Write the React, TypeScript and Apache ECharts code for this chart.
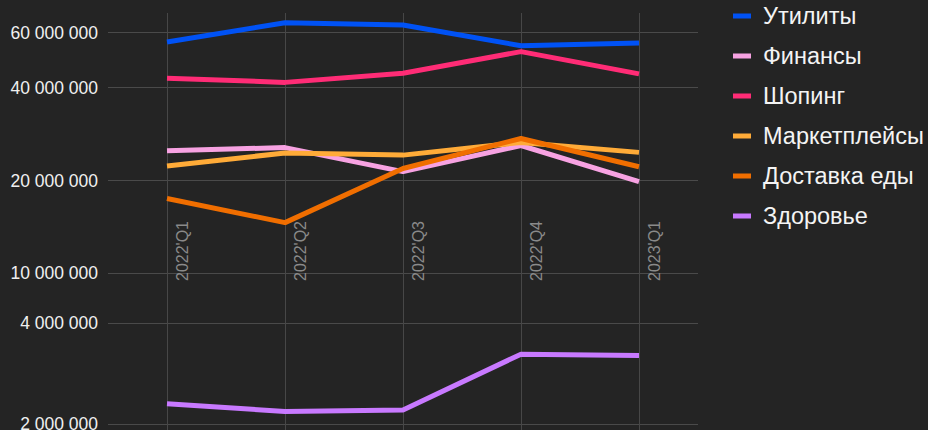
import React, { useEffect, useRef } from "react";
import * as echarts from "echarts";

const categories = ["2022'Q1", "2022'Q2", "2022'Q3", "2022'Q4", "2023'Q1"];

const utilities = [56.0e6, 64.6e6, 63.5e6, 54.5e6, 55.6e6];
const finance = [25.0e6, 25.6e6, 21.4e6, 26.0e6, 19.85e6];
const shopping = [42.9e6, 41.6e6, 44.5e6, 52.2e6, 44.3e6];
const marketplaces = [22.3e6, 24.6e6, 24.2e6, 26.6e6, 24.7e6];
const foodDelivery = [17.5e6, 14.6e6, 21.9e6, 27.4e6, 22.2e6];
const health = [2.3e6, 2.18e6, 2.2e6, 3.23e6, 3.2e6];

const seriesNames = ["Утилиты", "Финансы", "Шопинг", "Маркетплейсы", "Доставка еды", "Здоровье"];
const seriesValues = [utilities, finance, shopping, marketplaces, foodDelivery, health];
const seriesColors = ["#0052f5", "#f7a2e2", "#ff2c76", "#ffab38", "#f06e00", "#c879ff"];

// y-axis tick values (the axis is log-like with a compressed band between 4M and 10M)
const yTicks = [2e6, 4e6, 1e7, 2e7, 4e7, 6e7];
// axis units for each tick (layout of the piecewise scale)
const yTickPos = [0, 101, 151, 243.3, 336.3, 391.3];

function T(v: number): number {
  const lv = Math.log10(v);
  const ls = yTicks.map((t) => Math.log10(t));
  let i = 0;
  if (lv <= ls[0]) i = 0;
  else if (lv >= ls[ls.length - 1]) i = ls.length - 2;
  else {
    while (i < ls.length - 2 && lv > ls[i + 1]) i++;
  }
  const f = (lv - ls[i]) / (ls[i + 1] - ls[i]);
  return yTickPos[i] + f * (yTickPos[i + 1] - yTickPos[i]);
}

function fmt(n: number): string {
  return String(Math.round(n)).replace(/\B(?=(\d{3})+(?!\d))/g, " ");
}

export default function App() {
  const ref = useRef<HTMLDivElement>(null);
  useEffect(() => {
    if (!ref.current) return;
    const chart = echarts.init(ref.current, undefined, { renderer: "svg" });
    const tickVals = yTicks.map(T);
    chart.setOption({
      animation: false,
      backgroundColor: "#242424",
      textStyle: { fontFamily: "Liberation Sans, Arial, sans-serif" },
      grid: { left: 108, right: 230, top: 13, bottom: 0, containLabel: false, outerBoundsMode: "none" },
      legend: {
        orient: "vertical",
        left: 733,
        top: 3,
        padding: 0,
        icon: "rect",
        itemWidth: 18,
        itemHeight: 5,
        itemGap: 14,
        textStyle: { color: "#f4f4f4", fontSize: 23.5, lineHeight: 26, padding: [0, 0, 0, 7] },
        data: seriesNames,
      },
      xAxis: {
        type: "category",
        data: categories,
        boundaryGap: true,
        axisLine: { show: false },
        axisTick: { show: false },
        splitLine: { show: true, alignWithLabel: true, lineStyle: { color: "#474747", width: 1 } },
        axisLabel: {
          inside: true,
          rotate: 90,
          margin: 149,
          align: "left",
          verticalAlign: "top",
          padding: [7, 0, 0, 0],
          color: "#8a8a8a",
          fontSize: 16,
          interval: 0,
        },
      },
      yAxis: {
        type: "value",
        min: -6,
        max: 411,
        axisLine: { show: false },
        axisTick: { show: false, customValues: tickVals },
        splitLine: { show: true, lineStyle: { color: "#4a4a4a", width: 1 } },
        axisLabel: {
          customValues: tickVals,
          color: "#f0f0f0",
          fontSize: 17.5,
          margin: 10,
          formatter: (val: number) => {
            let best = 0;
            for (let i = 1; i < tickVals.length; i++) {
              if (Math.abs(tickVals[i] - val) < Math.abs(tickVals[best] - val)) best = i;
            }
            return fmt(yTicks[best]);
          },
        },
      },
      series: seriesNames.map((name, i) => ({
        name,
        type: "line",
        data: seriesValues[i].map(T),
        showSymbol: false,
        symbol: "none",
        color: seriesColors[i],
        lineStyle: { width: 5, color: seriesColors[i] },
      })),
    });
    return () => chart.dispose();
  }, []);
  return (
    <div
      ref={ref}
      style={{ position: "fixed", left: 0, top: 0, width: 928, height: 430, background: "#242424" }}
    />
  );
}
